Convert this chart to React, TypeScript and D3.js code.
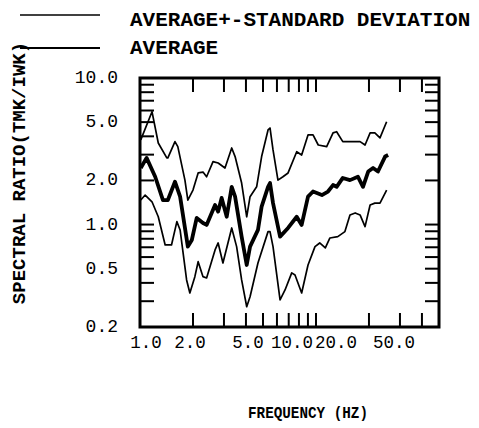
import React from "react";
import * as d3 from "d3";

const upperFreq = [1.01,1.17,1.27,1.42,1.44,1.58,1.64,1.80,1.87,2.00,2.14,2.28,2.39,2.60,2.78,3.04,3.32,3.47,3.78,4.04,4.22,4.60,4.91,5.34,5.48,5.70,6.08,6.49,6.94,7.77,8.29,9.01,9.62,10.3,11.5,12.5,13.1,14.2,15.6,17.8,19.0,20.3,21.6,23.1,25.2];
const upperVal = [3.78,5.89,3.60,2.85,2.85,3.68,3.40,2.01,1.47,1.72,2.25,2.28,2.12,2.69,2.63,2.43,3.33,2.91,1.92,1.13,1.55,1.81,2.91,4.42,4.56,3.23,2.01,2.12,2.25,3.14,2.98,4.09,4.09,3.49,3.40,4.22,4.30,3.68,3.68,3.68,3.49,4.22,4.22,3.90,5.03];

const avgFreq = [1.01,1.09,1.22,1.35,1.44,1.58,1.69,1.87,1.97,2.10,2.28,2.39,2.67,2.78,2.91,3.11,3.32,3.47,3.78,4.04,4.22,4.68,4.91,5.34,5.48,5.70,6.25,6.94,7.77,8.29,9.01,9.62,10.8,11.7,12.5,13.1,14.2,15.6,17.3,18.5,19.8,21.1,22.5,24.7,25.7];
const avgVal = [2.43,2.85,2.12,1.47,1.47,1.96,1.55,0.707,0.785,1.11,1.025,0.994,1.36,1.225,1.52,1.13,1.81,1.55,0.827,0.53,0.707,0.919,1.325,1.81,1.92,1.40,0.827,0.948,1.13,0.994,1.55,1.68,1.59,1.68,1.86,1.81,2.08,2.01,2.12,1.81,2.30,2.43,2.30,2.91,2.98];

const lowerFreq = [1.01,1.07,1.17,1.27,1.39,1.51,1.62,1.69,1.84,1.92,2.05,2.14,2.28,2.39,2.67,2.78,2.96,3.32,3.54,3.78,4.04,4.22,4.68,5.34,5.48,5.70,6.25,6.67,7.28,7.60,8.29,9.01,9.87,10.5,11.3,12.0,13.3,14.6,15.6,16.7,17.8,19.0,20.3,21.6,23.1,25.2];
const lowerVal = [1.47,1.59,1.43,1.13,0.726,0.726,1.047,0.919,0.419,0.3415,0.441,0.558,0.441,0.432,0.671,0.749,0.547,0.948,0.707,0.419,0.275,0.322,0.547,0.895,0.895,0.707,0.306,0.358,0.468,0.453,0.3415,0.53,0.707,0.749,0.693,0.810,0.827,0.895,1.163,1.2,1.163,0.968,1.36,1.40,1.40,1.72];

const xTickLabels = [1, 2, 5, 10, 20, 50];
const xMinorTicks = [2, 3, 4, 5, 6, 7, 8, 9, 10, 20, 30, 40];
const yTickLabels = [10, 5, 2, 1, 0.5, 0.2];
const yMinorTicks = [0.3, 0.4, 0.5, 0.6, 0.7, 0.8, 0.9, 1, 2, 3, 4, 5, 6, 7, 8, 9];

const legendLabels = ["AVERAGE+-STANDARD DEVIATION", "AVERAGE"];
const xTitle = "FREQUENCY (HZ)";
const yTitle = "SPECTRAL RATIO(TMK/IWK)";

export default function App() {
  const W = 479, H = 428;
  const L = 140, R = 439, T = 78, B = 327;
  const x = d3.scaleLog().domain([1, 50]).range([L, R]);
  const y = d3.scaleLog().domain([0.2, 10]).range([B, T]);
  // the original plot places its x tick labels on a compressed log scale
  const xLab = d3.scaleLog().domain([1, 50]).range([146, 394]);
  const line = d3.line<[number, number]>().x(d => x(d[0])).y(d => y(d[1]));
  const mk = (f: number[], v: number[]) => line(f.map((ff, i) => [ff, v[i]] as [number, number])) || "";
  const mono = "'Liberation Mono', 'DejaVu Sans Mono', monospace";
  const tl = 14;
  return (
    <svg width={W} height={H} style={{ position: "absolute", left: 0, top: 0, background: "#fff" }}>
      <rect x={0} y={0} width={W} height={H} fill="#fff" />
      {/* legend */}
      <line x1={20} x2={100} y1={15} y2={15} stroke="#000" strokeWidth={1.5} />
      <text x={130} y={26} fontFamily={mono} fontSize={21} fontWeight="bold">{legendLabels[0]}</text>
      <line x1={20} x2={100} y1={48} y2={48} stroke="#000" strokeWidth={2} />
      <text x={130} y={54} fontFamily={mono} fontSize={21} fontWeight="bold">{legendLabels[1]}</text>

      {/* curves */}
      <path d={mk(upperFreq, upperVal)} fill="none" stroke="#000" strokeWidth={1.7} strokeLinejoin="round" />
      <path d={mk(lowerFreq, lowerVal)} fill="none" stroke="#000" strokeWidth={1.7} strokeLinejoin="round" />
      <path d={mk(avgFreq, avgVal)} fill="none" stroke="#000" strokeWidth={3.8} strokeLinejoin="round" />

      {/* ticks */}
      {xMinorTicks.map(t => (
        <g key={"x" + t}>
          <line x1={x(t)} x2={x(t)} y1={B} y2={B - tl} stroke="#000" strokeWidth={2} />
          <line x1={x(t)} x2={x(t)} y1={T} y2={T + tl} stroke="#000" strokeWidth={2} />
        </g>
      ))}
      {yMinorTicks.map(t => (
        <g key={"y" + t}>
          <line x1={L} x2={L + tl} y1={y(t)} y2={y(t)} stroke="#000" strokeWidth={2} />
          <line x1={R} x2={R - tl} y1={y(t)} y2={y(t)} stroke="#000" strokeWidth={2} />
        </g>
      ))}
      <rect x={L} y={T} width={R - L} height={B - T} fill="none" stroke="#000" strokeWidth={3} />

      {/* tick labels */}
      {xTickLabels.map(t => (
        <text key={"xl" + t} x={xLab(t)} y={348} textAnchor="middle" fontFamily={mono} fontSize={17.5}>{t.toFixed(1)}</text>
      ))}
      {yTickLabels.map(t => (
        <text key={"yl" + t} x={118} y={y(t) + 5} textAnchor="end" fontFamily={mono} fontSize={18}>{t.toFixed(1)}</text>
      ))}

      {/* titles */}
      <text x={308} y={418} textAnchor="middle" fontFamily={mono} fontSize={17} fontWeight="bold" textLength={120} lengthAdjust="spacingAndGlyphs">{xTitle}</text>
      <text transform={`translate(20,173) rotate(-90)`} textAnchor="middle" dominantBaseline="central" fontFamily={mono} fontSize={19} fontWeight="bold">{yTitle}</text>
    </svg>
  );
}
